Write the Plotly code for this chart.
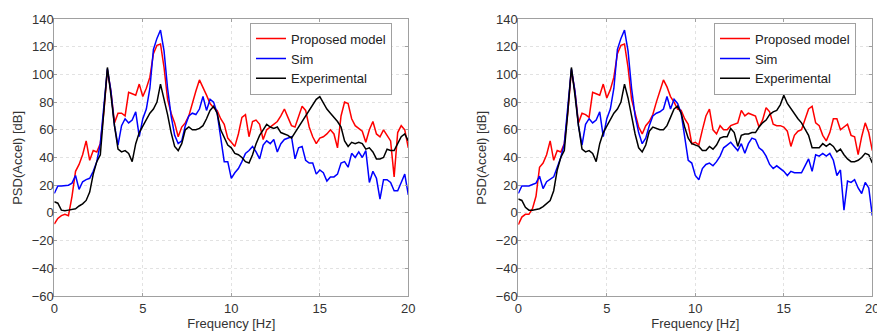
import numpy as np
import plotly.graph_objects as go

# Frequency grid [Hz]
freq = np.linspace(0, 20, 101)

# ---- Left panel ----
left_proposed = [-8, -4, -2, -1, -2, 12, 30, 35, 42, 52, 38, 45, 44, 50, 73, 103, 88, 65, 72, 72,
                 70, 87, 86, 85, 93, 84, 90, 98, 115, 121, 122, 105, 82, 72, 65, 55, 62, 65, 70, 80,
                 88, 96, 91, 85, 79, 76, 74, 68, 64, 54, 51, 48, 57, 69, 71, 55, 66, 67, 64, 53,
                 60, 62, 64, 66, 70, 75, 69, 63, 62, 69, 77, 74, 62, 55, 50, 54, 55, 57, 60, 57,
                 47, 70, 80, 79, 68, 63, 61, 59, 51, 60, 66, 57, 55, 60, 56, 52, 26, 58, 63, 60, 47]
left_sim = [14, 19.5, 19.5, 19.5, 20, 21.5, 27, 17, 22.5, 24, 25, 30, 37, 50, 76, 104, 88, 63, 49, 63,
            68, 65, 67, 73, 55, 68, 75, 90, 118, 126, 132, 117, 90, 70, 56, 50, 52, 63, 70, 72,
            71, 75, 84, 74, 82, 80, 72, 55, 37, 37, 25, 29, 32, 37, 43, 45, 48, 44, 39, 49,
            52, 50, 53, 44, 50, 53, 54, 55, 39, 47, 48, 38, 36, 36, 28, 31, 29, 23, 26, 26,
            28, 36, 37, 33, 43, 40, 44, 40, 45, 22, 30, 25, 10, 24, 24, 22, 16, 16, 22, 28, 13]
left_exp = [8, 7, 2, 1.5, 2, 2.5, 3, 5, 6.5, 9, 15, 28, 37, 42, 73, 105, 85, 63, 46, 44,
            45, 43, 37, 50, 58, 63, 67, 72, 75, 80, 93, 83, 71, 58, 48, 45, 50, 60, 62, 60,
            60, 61, 63, 68, 74, 77, 72, 60, 54, 49, 47, 43, 42, 40, 37, 36, 42, 50, 56, 60,
            64, 62, 61, 62, 58, 57, 56, 54, 58, 62, 66, 70, 74, 78, 82, 84, 79, 75, 72, 69,
            66, 62, 52, 48, 51, 50, 51, 50, 46, 47, 44, 39, 39, 40, 46, 45, 45, 50, 55, 57, 52]

# ---- Right panel ----
right_proposed = [-8.5, -3, -1, -1, 3, 12, 33, 36, 42, 52, 38, 45, 44, 50, 73, 103, 88, 65, 72, 71,
                  69, 87, 86, 85, 93, 83, 89, 98, 115, 121, 122, 105, 82, 72, 62, 57, 63, 66, 71, 80,
                  88, 96, 91, 84, 80, 75, 74, 68, 64, 50, 51, 49, 60, 70, 75, 60, 57, 63, 60, 60,
                  63, 64, 65, 74, 70, 72, 71, 70, 62, 67, 76, 73, 64, 63, 63, 62, 59, 48, 56, 59,
                  60, 67, 75, 77, 65, 63, 56, 52, 58, 68, 68, 60, 62, 64, 56, 55, 42, 55, 65, 58, 45]
right_sim = [14, 19.5, 19.5, 19.5, 20.5, 21.5, 26.5, 17.5, 22.5, 24, 26, 33, 40, 50, 76, 104, 88, 63, 49, 64,
             68, 65, 67, 73, 55, 68, 75, 90, 118, 126, 132, 117, 90, 70, 58, 50, 54, 63, 70, 72,
             73, 75, 84, 75, 82, 79, 72, 54, 38, 36, 27, 24, 32, 35, 36, 34, 37, 41, 47, 49,
             51, 48, 45, 50, 43, 50, 54, 53, 47, 45, 41, 35, 32, 34, 32, 30, 27, 30, 29, 29,
             29, 34, 39, 30, 42, 41, 43, 41, 43, 38, 27, 31, 2, 23, 22, 24, 18, 14, 22, 18, -2]
right_exp = [10, 9, 4, 2, 2, 2.5, 3, 4.5, 7, 9, 16, 31, 40, 45, 73, 105, 85, 63, 46, 44,
             45, 43, 37, 50, 58, 63, 67, 72, 75, 80, 93, 83, 70, 57, 47, 44, 49, 59, 62, 61,
             60, 60, 63, 69, 75, 77, 72, 62, 54, 50, 49, 48, 45, 45, 48, 46, 49, 54, 55, 55,
             61, 58, 48, 56, 57, 57, 58, 58, 62, 65, 67, 71, 73, 74, 78, 85, 79, 75, 71, 68,
             65, 60, 56, 47, 47, 47, 50, 48, 50, 48, 44, 46, 42, 39, 37, 37, 38, 40, 43, 42, 36]

series_names = ["Proposed model", "Sim", "Experimental"]
series_colors = ["#ff0000", "#0000ff", "#000000"]

x_ticks = [0, 5, 10, 15, 20]
y_ticks = [-60, -40, -20, 0, 20, 40, 60, 80, 100, 120, 140]
x_title = "Frequency [Hz]"
y_title = "PSD(Accel) [dB]"

W, H = 877, 331
fig = go.Figure()

panels = [
    ("x", "y", "legend", [left_proposed, left_sim, left_exp]),
    ("x2", "y2", "legend2", [right_proposed, right_sim, right_exp]),
]
for xa, ya, leg, data in panels:
    for name, color, vals in zip(series_names, series_colors, data):
        fig.add_trace(go.Scatter(
            x=freq, y=vals, mode="lines", name=name,
            line=dict(color=color, width=1.5),
            xaxis=xa, yaxis=ya, legend=leg,
        ))

axis_font = dict(family="Liberation Sans, Arial, sans-serif", size=13, color="#333333")
common_axis = dict(
    showline=True, linecolor="#a0a0a0", linewidth=1, mirror="ticks",
    ticks="inside", ticklen=3, tickcolor="#a0a0a0",
    showgrid=True, gridcolor="#e2e2e2", griddash="dot", gridwidth=1,
    zeroline=False, tickfont=axis_font, automargin=False,
)

xdom1 = [54.3 / W, 408.3 / W]
xdom2 = [518.3 / W, 872.3 / W]

for i, dom in enumerate([xdom1, xdom2], start=1):
    sfx = "" if i == 1 else str(i)
    fig.layout["xaxis" + sfx] = dict(
        common_axis, domain=dom, range=[0, 20], tickvals=x_ticks,
        anchor="y" + sfx, ticklabelstandoff=0, ticklabeloverflow="allow",
        title=dict(text=x_title, font=axis_font, standoff=0),
    )
    fig.layout["yaxis" + sfx] = dict(
        common_axis, domain=[0, 1], range=[-60, 140], tickvals=y_ticks,
        anchor="x" + sfx, ticklabelstandoff=-3,
    )
    # y-axis title placed as rotated text next to the axis
    fig.add_annotation(
        text=y_title, textangle=-90, showarrow=False,
        xref="paper", yref="paper", x=(dom[0] * W - 37) / W, y=0.5,
        xanchor="center", yanchor="middle", font=axis_font,
    )

legend_style = dict(
    xanchor="left", yanchor="top",
    bgcolor="white", bordercolor="#a0a0a0", borderwidth=1,
    font=dict(family="Liberation Sans, Arial, sans-serif", size=13, color="#222222"),
    tracegroupgap=0, itemwidth=30,
)
fig.update_layout(
    width=W, height=H,
    margin=dict(l=0, r=0, t=19, b=35),
    paper_bgcolor="white", plot_bgcolor="white",
    legend=dict(legend_style, x=250 / W, y=0.987),
    legend2=dict(legend_style, x=714 / W, y=0.987),
)

fig.write_html(
    "out.html",
    config={"displayModeBar": False},
    post_script="document.body.style.margin='0';document.body.style.overflow='hidden';",
)
